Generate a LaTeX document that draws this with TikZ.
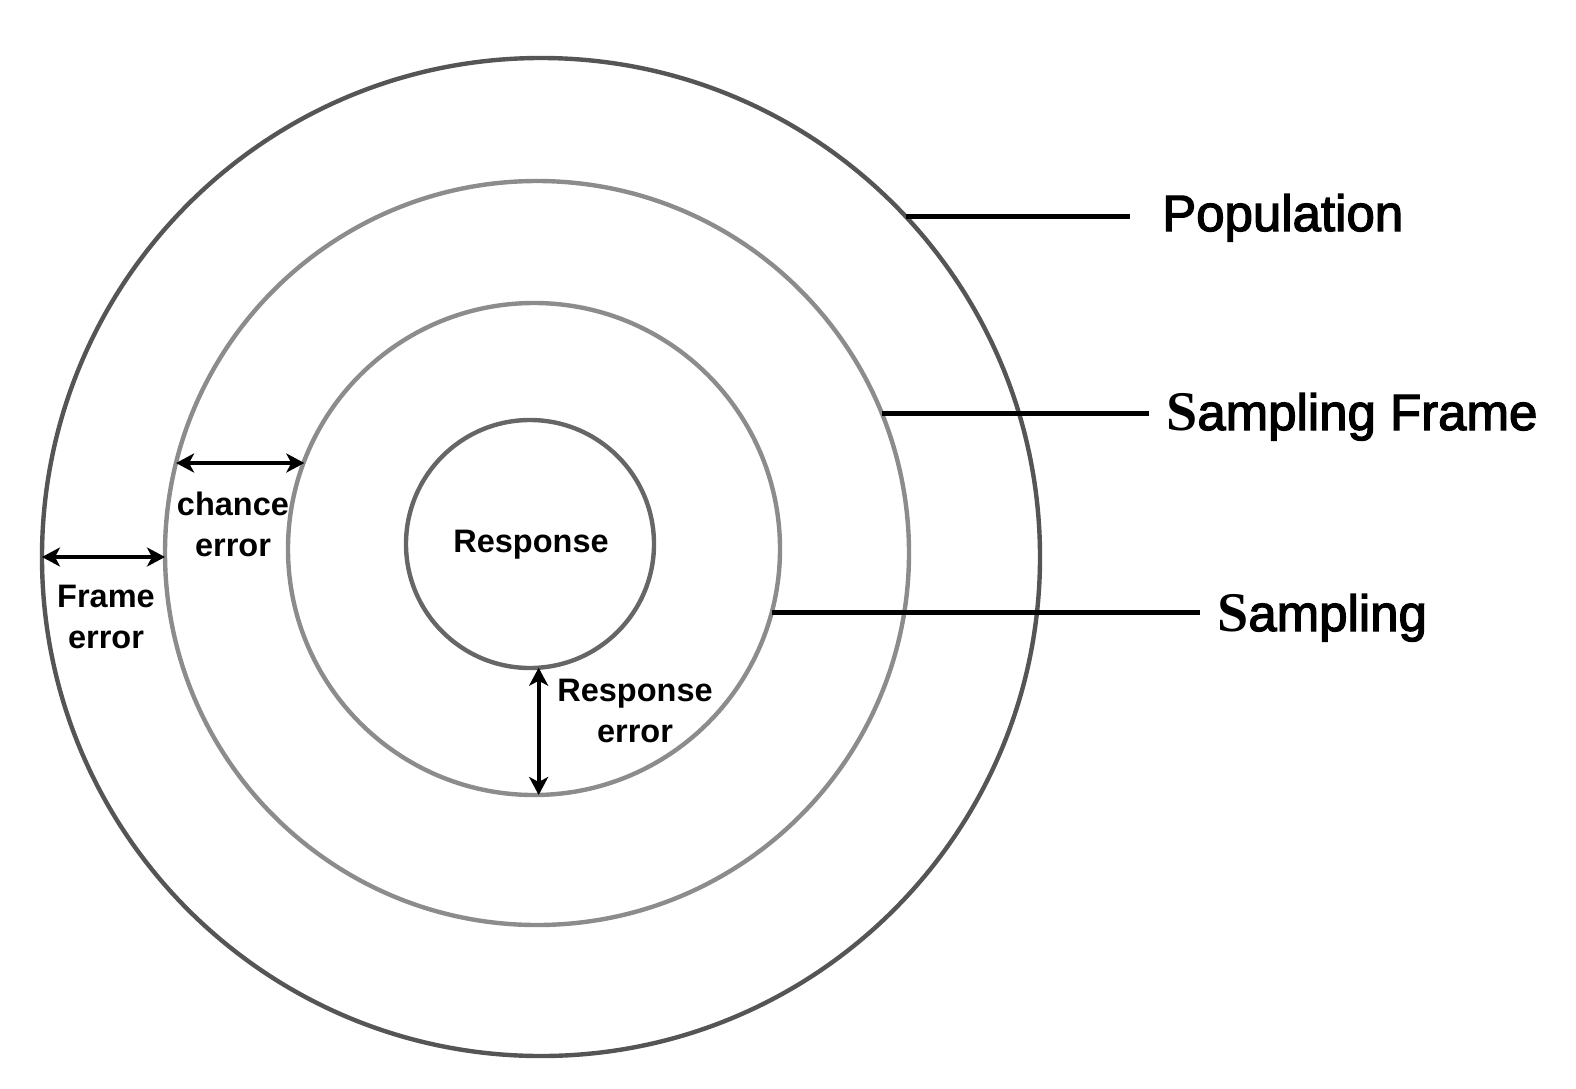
\documentclass[tikz,border=0pt]{standalone}
\usepackage{fontspec}
\setmainfont{Liberation Sans}
\newfontfamily\serifS{Liberation Serif}
\usetikzlibrary{arrows.meta}
\definecolor{ringdark}{HTML}{555555}
\definecolor{ringlight}{HTML}{8C8C8C}
\definecolor{ringmid}{HTML}{666666}
\newcommand{\bigS}{{\fontsize{56bp}{58bp}\serifS\bfseries S}}
\begin{document}
\begin{tikzpicture}[x=1bp,y=-1bp,
  ring/.style={circle,draw,line width=4.4bp,inner sep=0pt,outer sep=0pt},
  leader/.style={line width=4.6bp,black,shorten >=17bp},
  gap/.style={line width=3.8bp,black,{Stealth[length=18bp,width=19bp,inset=5bp]}-{Stealth[length=18bp,width=19bp,inset=5bp]}},
  biglabel/.style={anchor=base west,inner sep=0pt,font=\fontsize{51bp}{58bp}\selectfont\addfontfeature{FakeBold=2.5}},
  smalllabel/.style={align=center,inner sep=0pt,font=\fontsize{32.5bp}{41bp}\selectfont\bfseries}]
\useasboundingbox (0,0) rectangle (1576,1088);
\node[ring,draw=ringdark,minimum size=998bp] (c1) at (541,557) {};
\node[ring,draw=ringlight,minimum size=744bp] (c2) at (537,553) {};
\node[ring,draw=ringlight,minimum size=492bp] (c3) at (534,549) {};
\node[ring,draw=ringmid,minimum size=248bp] (c4) at (530,544) {};
\node[smalllabel] (resp) at (531,545) {Response};
% right labels
\node[biglabel] (lpop) at (1162,231) {Population};
\node[biglabel] (lframe) at (1166,430) {\bigS ampling Frame};
\node[biglabel] (lsamp) at (1217,631) {\bigS ampling};
\draw[leader,shorten >=32bp] (c1.43.74) -- (c1.43.74 -| lpop.west);
\draw[leader] (c2.22.28) -- (c2.22.28 -| lframe.west);
\draw[leader] (c3.-15.08) -- (c3.-15.08 -| lsamp.west);
% error arrows
\draw[gap] (c1.180) -- (c1.180 -| c2.west);
\node[smalllabel] (lfe) at (106,617) {Frame\\error};
\draw[gap] (c2.166) -- (c2.166 -| c3.159.54);
\node[smalllabel] (lce) at (233,524) {chance\\error};
\draw[gap] (c4.-86.8) -- (c4.-86.8 |- c3.south);
\node[smalllabel] (lre) at (635,711) {Response\\error};
\end{tikzpicture}
\end{document}
